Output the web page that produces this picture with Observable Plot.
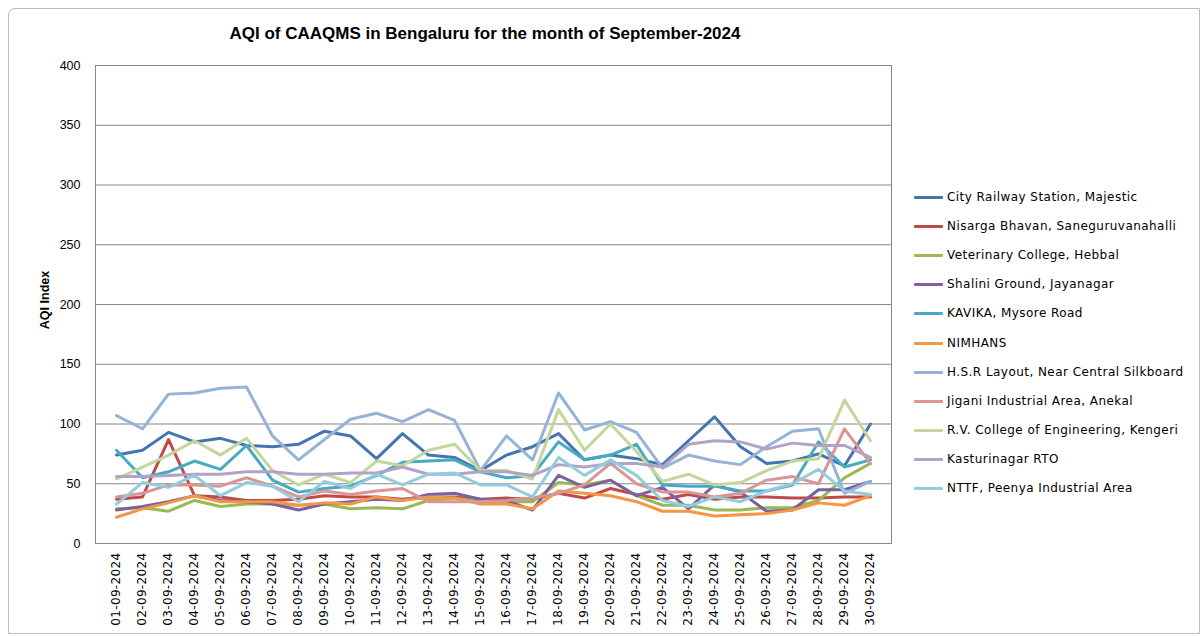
<!DOCTYPE html>
<html><head><meta charset="utf-8">
<script src="https://cdn.jsdelivr.net/npm/d3@7"></script>
<script src="https://cdn.jsdelivr.net/npm/@observablehq/plot@0.6"></script>
<style>
body{margin:0;background:#fff;}
#wrap{position:relative;width:1203px;height:637px;overflow:hidden;font-family:"Liberation Sans",Arial,sans-serif;background:#fff;}
#frame{position:absolute;left:8px;top:8px;width:1192px;height:626px;border:1px solid #bcbcbc;border-radius:7px 0 0 0;box-sizing:border-box;}
#chart{position:absolute;left:0;top:0;}
#title{position:absolute;left:0;width:970px;top:24px;text-align:center;font-weight:bold;font-size:17px;color:#000;}
#ytitle{position:absolute;left:45px;top:300px;transform:translate(-50%,-50%) rotate(-90deg);font-weight:bold;font-size:12.5px;white-space:nowrap;}
.item{position:absolute;left:914px;white-space:nowrap;font-family:"DejaVu Sans",sans-serif;font-size:12px;letter-spacing:0.45px;color:#000;transform:translateY(-50%);}
.sw{display:inline-block;width:29px;height:3px;vertical-align:middle;margin-right:4px;border-radius:1px;}
#chart svg g[aria-label="x-axis tick label"] text{letter-spacing:0.35px;}
</style></head>
<body>
<div id="wrap">
  <div id="frame"></div>
  <div id="chart"></div>
  <div id="title">AQI of CAAQMS in Bengaluru for the month of September-2024</div>
  <div id="ytitle">AQI Index</div>
  <div id="legend"></div>
</div>
<script>
const dates = ["01-09-2024","02-09-2024","03-09-2024","04-09-2024","05-09-2024","06-09-2024","07-09-2024","08-09-2024","09-09-2024","10-09-2024","11-09-2024","12-09-2024","13-09-2024","14-09-2024","15-09-2024","16-09-2024","17-09-2024","18-09-2024","19-09-2024","20-09-2024","21-09-2024","22-09-2024","23-09-2024","24-09-2024","25-09-2024","26-09-2024","27-09-2024","28-09-2024","29-09-2024","30-09-2024"];
const stations = ["City Railway Station, Majestic","Nisarga Bhavan, Saneguruvanahalli","Veterinary College, Hebbal","Shalini Ground, Jayanagar","KAVIKA, Mysore Road","NIMHANS","H.S.R Layout, Near Central Silkboard","Jigani Industrial Area, Anekal","R.V. College of Engineering, Kengeri","Kasturinagar RTO","NTTF, Peenya Industrial Area"];
const colors = ["#4575b0","#be4b48","#98b954","#7d60a0","#46aac5","#f69544","#95b3d7","#d99694","#c3d69b","#b3a2c7","#93cddd"];
const majestic   = [74,78,93,85,88,82,81,83,94,90,71,92,74,72,61,74,81,92,70,74,71,66,86,106,81,67,69,75,65,100];
const nisarga    = [37,39,87,40,39,36,36,37,40,39,39,37,39,39,37,38,37,42,38,46,41,37,41,37,39,39,38,38,39,39];
const veterinary = [29,30,27,36,31,33,33,32,33,29,30,29,36,38,35,35,35,51,49,53,40,32,32,28,28,30,30,36,55,67];
const shalini    = [28,31,35,40,36,35,33,28,33,35,37,36,41,42,37,36,28,57,47,53,40,47,29,49,43,27,28,45,45,52];
const kavika     = [78,55,60,69,62,82,53,43,46,48,57,68,69,70,60,55,57,85,70,74,83,49,48,48,44,44,49,85,64,70];
const nimhans    = [22,29,34,40,35,35,35,32,34,33,39,36,39,38,33,33,29,44,42,40,35,27,27,23,24,25,28,34,32,40];
const hsr        = [107,96,125,126,130,131,90,70,87,104,109,102,112,103,61,90,70,126,95,102,93,63,74,69,66,81,94,96,42,52];
const jigani     = [39,42,49,49,48,55,48,39,44,41,44,46,35,35,35,36,38,42,49,67,50,43,43,39,42,53,56,50,96,67];
const rvce       = [54,64,74,86,74,88,61,49,58,51,69,65,78,83,61,61,54,112,78,100,77,52,58,49,51,61,69,71,120,86];
const kasturi    = [56,56,57,58,58,60,60,58,58,59,59,64,58,58,60,60,57,66,64,67,67,64,83,86,85,79,84,82,82,72];
const nttf       = [33,51,47,57,40,51,48,35,52,46,58,49,58,59,49,49,39,72,57,70,57,36,31,39,35,44,50,62,44,41];
const yTicks = [0,50,100,150,200,250,300,350,400];

const series = [majestic,nisarga,veterinary,shalini,kavika,nimhans,hsr,jigani,rvce,kasturi,nttf];
const rows = [];
series.forEach((vals, i) => vals.forEach((v, j) => rows.push({station: stations[i], date: dates[j], value: v})));

const chart = Plot.plot({
  width: 1203, height: 637,
  marginLeft: 95, marginRight: 312, marginTop: 65, marginBottom: 94,
  style: {fontFamily: "Liberation Sans, Arial, sans-serif", fontSize: "12px", background: "transparent", color: "#000"},
  x: {type: "point", domain: dates, padding: 0.5},
  y: {domain: [0, 400]},
  marks: [
    Plot.ruleY(yTicks, {stroke: "#868686", strokeWidth: 1}),
    Plot.frame({stroke: "#868686", strokeWidth: 1}),
    Plot.axisY({ticks: yTicks, tickSize: 0, tickPadding: 15, label: null, fontSize: 12.5}),
    Plot.axisX({tickRotate: -90, tickSize: 0, tickPadding: 9, label: null, fontSize: 12, fontFamily: "DejaVu Sans"}),
    ...stations.map((s, i) => Plot.line(rows.filter(r => r.station === s), {
      x: "date", y: "value", stroke: colors[i], strokeWidth: 3, strokeLinejoin: "round", strokeLinecap: "round"
    }))
  ]
});
document.getElementById("chart").appendChild(chart);

const legend = document.getElementById("legend");
stations.forEach((s, i) => {
  const d = document.createElement("div");
  d.className = "item";
  d.style.top = (197 + i * 29.1) + "px";
  d.innerHTML = `<span class="sw" style="background:${colors[i]}"></span>${s}`;
  legend.appendChild(d);
});
</script>
</body></html>
